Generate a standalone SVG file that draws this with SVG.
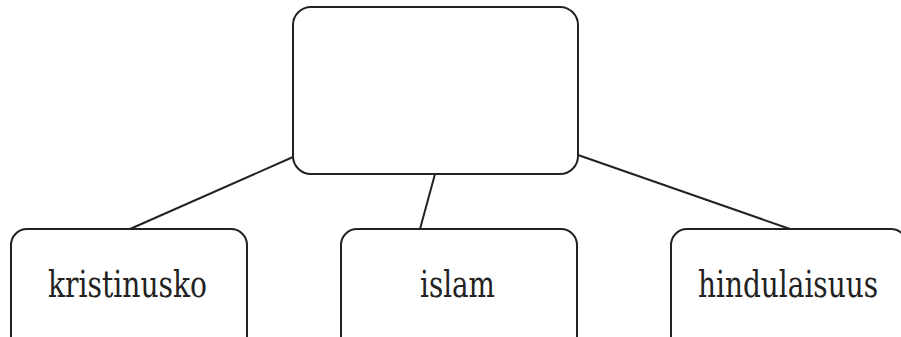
<svg xmlns="http://www.w3.org/2000/svg" width="901" height="337" viewBox="0 0 901 337">
<style>
.box{fill:#fff;stroke:#222;stroke-width:2}
.lbl{font-family:"DejaVu Serif",serif;font-size:37px;fill:#222;text-anchor:middle}
.edge{stroke:#222;stroke-width:2;fill:none}
</style>
<rect width="901" height="337" fill="#fff"/>
<g id="connectors">
<line class="edge" x1="293" y1="157" x2="130" y2="229"/>
<line class="edge" x1="435" y1="174" x2="420" y2="229"/>
<line class="edge" x1="578" y1="155" x2="790" y2="229"/>
</g>
<g id="root"><rect class="box" x="293" y="7" width="285" height="167" rx="18"/></g>
<g id="kristinusko"><rect class="box" x="11" y="229" width="236" height="130" rx="16"/><text class="lbl" transform="translate(127.5 297) scale(0.72 1)" textLength="221" lengthAdjust="spacingAndGlyphs">kristinusko</text></g>
<g id="islam"><rect class="box" x="341" y="229" width="236" height="130" rx="16"/><text class="lbl" transform="translate(457.5 297) scale(0.72 1)" textLength="104" lengthAdjust="spacingAndGlyphs">islam</text></g>
<g id="hindulaisuus"><rect class="box" x="671" y="229" width="236" height="130" rx="16"/><text class="lbl" transform="translate(788 297) scale(0.72 1)" textLength="250" lengthAdjust="spacingAndGlyphs">hindulaisuus</text></g>
</svg>
